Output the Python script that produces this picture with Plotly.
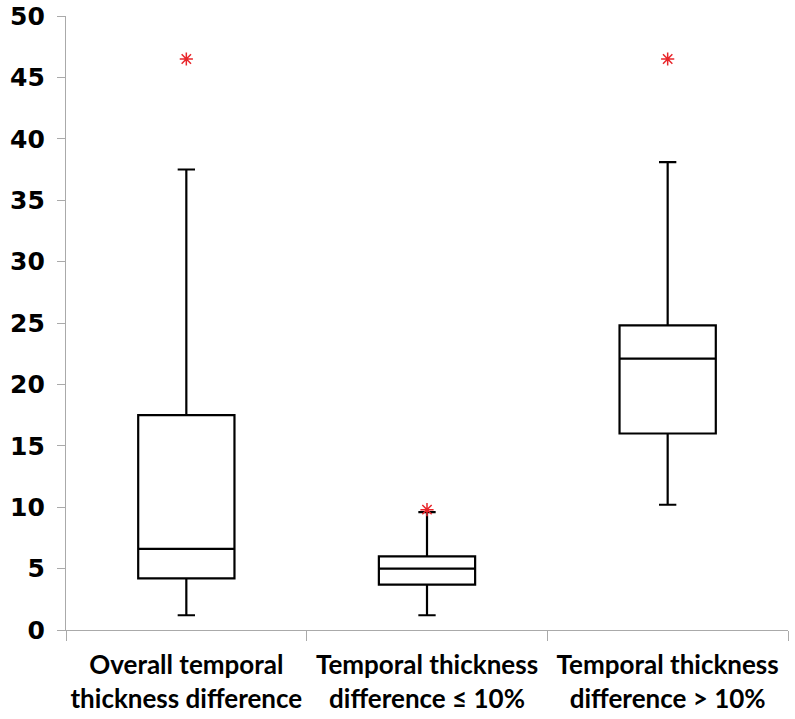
import plotly.graph_objects as go

categories = ["Overall temporal<br>thickness difference",
              "Temporal thickness<br>difference ≤ 10%",
              "Temporal thickness<br>difference > 10%"]
lower_whisker = [1.2, 1.2, 10.2]
q1 = [4.2, 3.7, 16.0]
median = [6.6, 5.0, 22.1]
q3 = [17.5, 6.0, 24.8]
upper_whisker = [37.5, 9.6, 38.1]
outliers = [46.5, 9.8, 46.5]
y_ticks = list(range(0, 51, 5))

fig = go.Figure()
fig.add_trace(go.Box(
    x=categories, q1=q1, median=median, q3=q3,
    lowerfence=lower_whisker, upperfence=upper_whisker,
    fillcolor="white", line=dict(color="black", width=2.2),
    width=0.4, whiskerwidth=0.18, boxpoints=False, showlegend=False,
    hoverinfo="skip"))
fig.add_trace(go.Scatter(
    x=categories, y=outliers, mode="markers",
    marker=dict(symbol="asterisk-open", size=11, color="#e8262b",
                line=dict(color="#e8262b", width=1.5)),
    showlegend=False))

fig.update_layout(
    width=795, height=719,
    margin=dict(l=66, r=7, t=16, b=89),
    paper_bgcolor="white", plot_bgcolor="white",
    xaxis=dict(type="category", categoryorder="array", categoryarray=categories,
               automargin=False, range=[-0.5, 2.5], tickangle=0,
               showline=True, linecolor="#aaaaaa", linewidth=1.3,
               ticks="outside", tickson="boundaries", ticklen=10,
               tickcolor="#aaaaaa", showgrid=False, ticklabelstandoff=12,
               tickfont=dict(family="Lato, sans-serif",
                             size=26, color="black", weight="bold")),
    yaxis=dict(range=[0, 50], tickvals=y_ticks, showline=True, automargin=False,
               linecolor="#aaaaaa", linewidth=1.3, ticks="outside",
               ticklen=8, tickcolor="#aaaaaa", showgrid=False, zeroline=False,
               ticklabelstandoff=7,
               tickfont=dict(family="DejaVu Sans", size=25, color="black",
                             weight="bold")),
)
fig.write_html("out.html")
